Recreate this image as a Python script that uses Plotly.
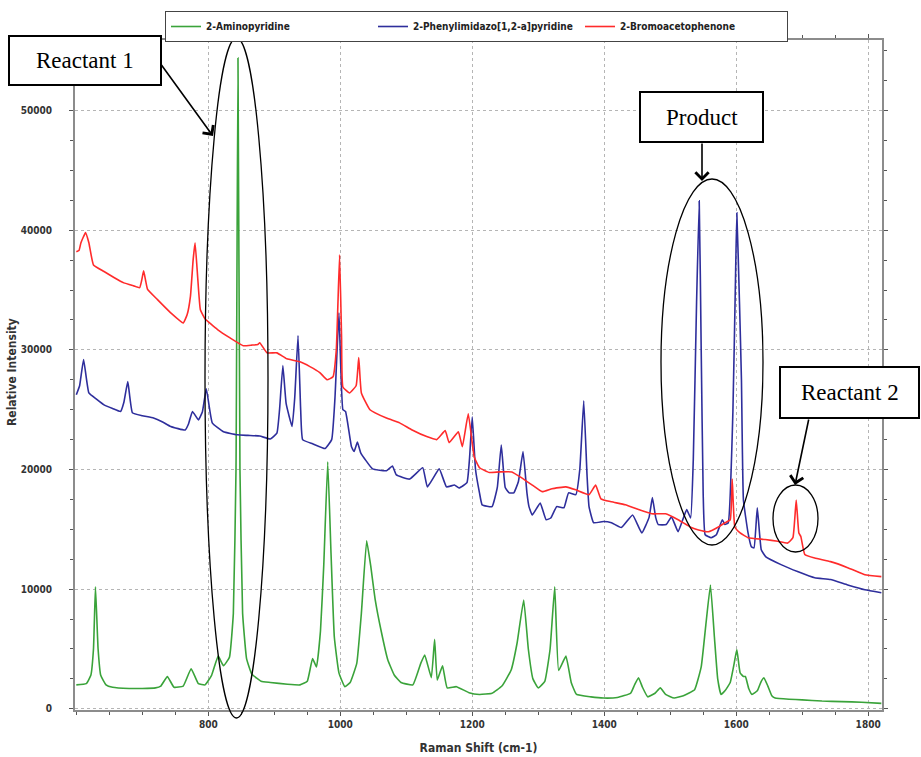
import plotly.graph_objects as go

# Raman spectra: (Raman shift cm-1, relative intensity)
AMINOPYRIDINE = [
    (600, 2000), (615, 2100), (622, 2800), (626, 5000), (629, 10200), (633, 5000), (637, 2800),
    (645, 2000), (655, 1800), (680, 1700), (700, 1700), (720, 1750), (728, 1900), (738, 2700),
    (748, 1800), (762, 1900), (774, 3350), (785, 2100), (795, 2000), (805, 2800), (815, 4400),
    (823, 3600), (832, 4300), (838, 8000), (842, 20000), (845, 54400), (848, 20000), (852, 8000),
    (858, 4200), (866, 2900), (880, 2300), (894, 2200), (920, 2050), (939, 2000), (950, 2300),
    (958, 4200), (964, 3500), (970, 6500), (975, 12000), (981, 20650), (986, 13000), (991, 6000),
    (998, 3000), (1007, 1850), (1015, 2200), (1025, 3800), (1032, 8000), (1040, 14050),
    (1046, 12000), (1053, 9100), (1062, 6500), (1072, 4100), (1082, 2800), (1092, 2200),
    (1110, 2000), (1122, 3800), (1128, 4500), (1138, 2600), (1143, 5800), (1147, 2400),
    (1155, 3600), (1162, 1750), (1176, 1850), (1195, 1350), (1211, 1200), (1230, 1300),
    (1245, 1900), (1259, 3250), (1268, 5500), (1278, 9100), (1285, 5000), (1292, 2500),
    (1300, 1750), (1310, 2300), (1318, 5000), (1325, 10200), (1331, 3200), (1342, 4400),
    (1350, 2200), (1358, 1200), (1380, 1000), (1399, 900), (1420, 950), (1440, 1300),
    (1446, 2000), (1452, 2600), (1458, 1800), (1466, 1000), (1477, 1300), (1485, 1750),
    (1493, 1200), (1506, 900), (1520, 1100), (1537, 1600), (1547, 3500), (1554, 7000),
    (1561, 10350), (1567, 6000), (1572, 2500), (1577, 1200), (1583, 1500), (1591, 2200),
    (1597, 3800), (1601, 4950), (1606, 3000), (1611, 2700), (1614, 2700), (1619, 1700),
    (1624, 1200), (1632, 1500), (1638, 2300), (1642, 2600), (1648, 1900), (1654, 1100),
    (1659, 900), (1680, 800), (1700, 750), (1730, 650), (1760, 600), (1790, 550), (1820, 450),
]

PHENYLIMIDAZOPYRIDINE = [
    (600, 26250), (605, 27000), (611, 29200), (619, 26400), (630, 25900), (642, 25400),
    (655, 25100), (667, 24850), (672, 25600), (678, 27350), (685, 24750), (700, 24500),
    (717, 24300), (730, 24000), (743, 23600), (765, 23300), (770, 23800), (776, 24850),
    (785, 24150), (791, 24800), (797, 26750), (806, 23900), (823, 23150), (844, 22900),
    (860, 22850), (878, 22800), (894, 22550), (904, 23050), (908, 25000), (913, 28700),
    (918, 25500), (927, 23600), (931, 26000), (936, 31200), (940, 25000), (943, 22500),
    (958, 22150), (977, 21750), (987, 22500), (992, 26000), (998, 33100), (1004, 25000),
    (1008, 24850), (1017, 21900), (1021, 21500), (1026, 22300), (1031, 21400), (1049, 20050),
    (1070, 19900), (1079, 20300), (1085, 19550), (1105, 19200), (1125, 20150), (1132, 18550),
    (1150, 20050), (1161, 18550), (1173, 18700), (1180, 18450), (1192, 18900), (1196, 21000),
    (1200, 24400), (1205, 20000), (1211, 18050), (1215, 17050), (1230, 16900), (1238, 18500),
    (1244, 22050), (1250, 18500), (1256, 18050), (1263, 18050), (1270, 19000), (1277, 21500),
    (1283, 18000), (1286, 16900), (1291, 16200), (1303, 17200), (1312, 15800), (1319, 15950),
    (1328, 16900), (1339, 16800), (1346, 18050), (1357, 17900), (1363, 20000), (1369, 25750),
    (1374, 19500), (1377, 16900), (1384, 15550), (1399, 15650), (1411, 15550), (1426, 15150),
    (1443, 16200), (1457, 14700), (1468, 16000), (1473, 17650), (1478, 16000), (1482, 15400),
    (1494, 15400), (1502, 16050), (1512, 14800), (1525, 16650), (1531, 15950), (1535, 20800),
    (1540, 34000), (1544, 42450), (1547, 30000), (1550, 18000), (1553, 14550), (1562, 14300),
    (1570, 14550), (1579, 15800), (1583, 15400), (1588, 15550), (1595, 24750), (1599, 36000),
    (1601, 41450), (1605, 34000), (1608, 27500), (1611, 17450), (1618, 14700), (1623, 13550),
    (1627, 13450), (1632, 16800), (1638, 13300), (1645, 12700), (1668, 12050), (1694, 11450),
    (1719, 10950), (1743, 10800), (1769, 10350), (1795, 9950), (1820, 9700),
]

BROMOACETOPHENONE = [
    (600, 38200), (604, 38300), (607, 38950), (614, 39800), (619, 38950), (626, 37100),
    (642, 36550), (657, 36050), (672, 35600), (687, 35350), (696, 35200), (699, 35800),
    (702, 36600), (705, 35800), (708, 35050), (723, 34200), (743, 33100), (762, 32250),
    (768, 32950), (773, 34500), (777, 37500), (780, 38950), (784, 36000), (788, 33350),
    (795, 32600), (814, 31700), (833, 31000), (853, 30350), (866, 30400), (875, 30450),
    (878, 30600), (889, 29750), (904, 29750), (919, 29250), (939, 29000), (954, 28600),
    (969, 28100), (980, 27500), (989, 27750), (994, 30000), (999, 37950), (1002, 31000),
    (1004, 26900), (1014, 26400), (1024, 27000), (1028, 29350), (1032, 26400), (1045, 25000),
    (1070, 24300), (1090, 23900), (1109, 23300), (1131, 22750), (1146, 22500), (1159, 23250),
    (1165, 22250), (1179, 23150), (1185, 21900), (1194, 24650), (1203, 21050), (1211, 20150),
    (1226, 19750), (1241, 19800), (1260, 19800), (1275, 19300), (1291, 18700), (1306, 18150),
    (1321, 18400), (1342, 18550), (1357, 18300), (1377, 17900), (1387, 18700), (1395, 17550),
    (1411, 17300), (1432, 17050), (1452, 16650), (1472, 16300), (1493, 16300), (1512, 15800),
    (1532, 15150), (1543, 14950), (1558, 14800), (1573, 15200), (1583, 15550), (1591, 15800),
    (1594, 19200), (1598, 15200), (1606, 14700), (1618, 14300), (1644, 14150), (1663, 14000),
    (1678, 13850), (1686, 14300), (1691, 17450), (1695, 14700), (1698, 14400), (1704, 12900),
    (1719, 12600), (1743, 12300), (1769, 11800), (1795, 11200), (1820, 11050),
]

SERIES_NAMES = ["2-Aminopyridine", "2-Phenylimidazo[1,2-a]pyridine", "2-Bromoacetophenone"]
X_TICKS = [800, 1000, 1200, 1400, 1600, 1800]
Y_TICKS = [0, 10000, 20000, 30000, 40000, 50000]

# canvas and plot box (pixels)
W, H = 921, 757
ML, MR, MT, MB = 75, 39, 40, 47
PW, PH = W - ML - MR, H - MT - MB


def paper(px, py):
    """Canvas pixel position -> paper coordinates."""
    return (px - ML) / PW, (H - MB - py) / PH


COLORS = ["#3aa33a", "#2e2e9c", "#ff2b2b"]
LABEL_FONT = "Liberation Sans Narrow, Arial Narrow, DejaVu Sans Condensed, sans-serif"
NOTE_FONT = "Liberation Serif, Times New Roman, serif"
TITLE_FONT = dict(family=LABEL_FONT, size=12, color="#333", weight="bold")

fig = go.Figure()
for name, data, color in zip(SERIES_NAMES,
                             [AMINOPYRIDINE, PHENYLIMIDAZOPYRIDINE, BROMOACETOPHENONE],
                             COLORS):
    xs = [p[0] for p in data]
    ys = [p[1] for p in data]
    fig.add_trace(go.Scatter(x=xs, y=ys, mode="lines", name=name,
                             line=dict(color=color, width=1.6, shape="spline", smoothing=0.35)))

axis_common = dict(
    showline=True, linecolor="#8c8c8c", linewidth=2, mirror="allticks",
    ticks="outside", ticklen=4, tickcolor="#555", tickwidth=1,
    showgrid=True, gridcolor="#b5b5b5", griddash="dot", gridwidth=1,
    zeroline=False, tickformat="d", automargin=False,
    tickfont=dict(family=LABEL_FONT, size=10, color="#333", weight="bold"),
)

fig.update_xaxes(range=[598, 1821], tickvals=X_TICKS,
                 minor=dict(dtick=50, tick0=0, ticks="outside", ticklen=3, tickcolor="#555", showgrid=False),
                 title_text="Raman Shift (cm-1)", title_font=TITLE_FONT, **axis_common)
fig.update_yaxes(range=[-100, 55900], tickvals=Y_TICKS,
                 minor=dict(dtick=2500, tick0=0, ticks="outside", ticklen=3, tickcolor="#555", showgrid=False),
                 ticklabelstandoff=15, **axis_common)

# callouts: ellipses, boxed labels and arrows
shapes = []
for (x0, y0, x1, y1) in [(205, 38, 268, 718), (661, 179, 763, 545), (773, 485, 818, 552)]:
    a0, b0 = paper(x0, y1)
    a1, b1 = paper(x1, y0)
    shapes.append(dict(type="circle", xref="paper", yref="paper", x0=a0, y0=b0, x1=a1, y1=b1,
                       line=dict(color="black", width=1.3), layer="above"))

boxes = [("Reactant 1", (9, 36, 161, 85)),
         ("Product", (640, 92, 763, 142)),
         ("Reactant 2", (780, 367, 919, 418))]

# y-axis title, set just left of the tick labels
tx, ty = paper(12, 372)
annotations = [dict(text="Relative Intensity", xref="paper", yref="paper", x=tx, y=ty,
                    xanchor="center", yanchor="middle", textangle=-90, showarrow=False,
                    font=TITLE_FONT)]
for text, (x0, y0, x1, y1) in boxes:
    a0, b0 = paper(x0, y1)
    a1, b1 = paper(x1, y0)
    shapes.append(dict(type="rect", xref="paper", yref="paper", x0=a0, y0=b0, x1=a1, y1=b1,
                       fillcolor="white", line=dict(color="black", width=2), layer="above"))
    cx, cy = paper((x0 + x1) / 2, (y0 + y1) / 2)
    annotations.append(dict(text=text, xref="paper", yref="paper", x=cx, y=cy,
                            xanchor="center", yanchor="middle", showarrow=False,
                            font=dict(family=NOTE_FONT, size=23, color="black")))

for (hx, hy), (tx, ty) in [((213, 136), (160, 63)), ((702, 181), (702, 142)), ((795, 485), (809, 418))]:
    x, y = paper(hx, hy)
    annotations.append(dict(text="", xref="paper", yref="paper", x=x, y=y,
                            ax=tx - hx, ay=ty - hy, showarrow=True, arrowhead=4,
                            arrowsize=1.6, arrowwidth=1.6, arrowcolor="black"))

lx, ly = paper(165, 11)
fig.update_layout(
    width=W, height=H,
    margin=dict(l=ML, r=MR, t=MT, b=MB, autoexpand=False),
    paper_bgcolor="white", plot_bgcolor="white",
    shapes=shapes, annotations=annotations,
    legend=dict(orientation="h", x=lx, y=ly, xanchor="left", yanchor="top",
                entrywidth=162, entrywidthmode="pixels",
                bordercolor="#444", borderwidth=1, bgcolor="white",
                font=dict(family=LABEL_FONT, size=10, color="#222", weight="bold"),
                itemwidth=30, tracegroupgap=0),
    showlegend=True,
)

fig.write_html("out.html")
